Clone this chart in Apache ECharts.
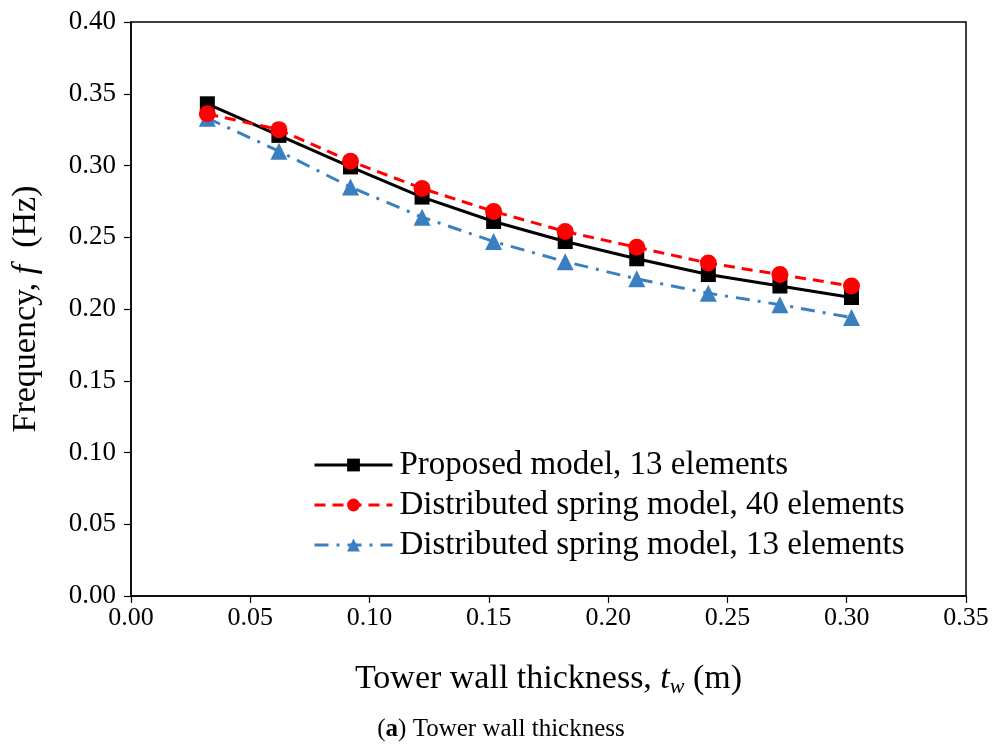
<!DOCTYPE html>
<html><head><meta charset="utf-8">
<script src="https://cdn.jsdelivr.net/npm/echarts@6/dist/echarts.min.js"></script>
<style>html,body{margin:0;padding:0;background:#fff}#c{width:1002px;height:749px}</style>
</head><body><div id="c"></div>
<script>
const thickness = [0.032, 0.062, 0.092, 0.122, 0.152, 0.182, 0.212, 0.242, 0.272, 0.302];
const proposed13 = [0.343, 0.321, 0.299, 0.278, 0.261, 0.247, 0.235, 0.224, 0.216, 0.208];
const spring40 = [0.336, 0.325, 0.303, 0.284, 0.268, 0.254, 0.243, 0.232, 0.224, 0.216];
const spring13 = [0.333, 0.310, 0.285, 0.264, 0.247, 0.233, 0.221, 0.211, 0.203, 0.194];
const seriesNames = ['Proposed model, 13 elements', 'Distributed spring model, 40 elements', 'Distributed spring model, 13 elements'];
const xTicks = [0, 0.05, 0.10, 0.15, 0.20, 0.25, 0.30, 0.35];
const yTicks = [0, 0.05, 0.10, 0.15, 0.20, 0.25, 0.30, 0.35, 0.40];

const font = 'Liberation Serif';
const pair = (xs, ys) => xs.map((x, i) => [x, ys[i]]);
const chart = echarts.init(document.getElementById('c'));
chart.setOption({
  animation: false,
  textStyle: { fontFamily: font, color: '#000' },
  grid: { left: 131, right: 36, top: 22, bottom: 153, containLabel: false, outerBoundsMode: 'none', show: true, borderColor: '#000', borderWidth: 1.5, backgroundColor: 'transparent' },
  xAxis: {
    type: 'value', min: xTicks[0], max: xTicks[xTicks.length - 1], interval: 0.05,
    axisLine: { lineStyle: { color: '#000', width: 1.5 } },
    axisTick: { inside: false, length: 7, lineStyle: { color: '#000', width: 1.2 } },
    axisLabel: { fontFamily: font, fontSize: 26, color: '#000', margin: 9, formatter: v => v.toFixed(2) },
    splitLine: { show: false },
    name: '{n|Tower wall thickness, }{i|t}{s|w}{n| (m)}',
    nameLocation: 'middle', nameGap: 64,
    nameTextStyle: {
      rich: {
        n: { fontFamily: font, fontSize: 34, color: '#000' },
        i: { fontFamily: font, fontSize: 34, fontStyle: 'italic', color: '#000' },
        s: { fontFamily: font, fontSize: 22, fontStyle: 'italic', color: '#000', padding: [16, 0, 0, 0] }
      }
    }
  },
  yAxis: {
    type: 'value', min: yTicks[0], max: yTicks[yTicks.length - 1], interval: 0.05,
    axisLine: { lineStyle: { color: '#000', width: 1.5 } },
    axisTick: { inside: false, length: 7, lineStyle: { color: '#000', width: 1.2 } },
    axisLabel: { fontFamily: font, fontSize: 27, color: '#000', margin: 15, formatter: v => v.toFixed(2) },
    splitLine: { show: false },
    name: '{n|Frequency, }{i|f}{n|  (Hz)}',
    nameLocation: 'middle', nameGap: 88,
    nameTextStyle: {
      rich: {
        n: { fontFamily: font, fontSize: 34, color: '#000' },
        i: { fontFamily: font, fontSize: 34, fontStyle: 'italic', color: '#000' }
      }
    }
  },
  legend: {
    left: 308, top: 441, orient: 'vertical', itemWidth: 78, itemHeight: 16, itemGap: 2,
    textStyle: { fontFamily: font, fontSize: 33, color: '#000', padding: [0, 0, 0, 2], lineHeight: 38 },
    lineStyle: { width: 3 },
    data: seriesNames
  },
  graphic: [{
    type: 'text', left: 'center', top: 717,
    style: {
      text: '({b|a}) Tower wall thickness',
      font: '25px "Liberation Serif"', fill: '#000',
      rich: { b: { fontFamily: font, fontSize: 25, fontWeight: 'bold', fill: '#000' } }
    }
  }],
  series: [
    {
      name: seriesNames[0], type: 'line', data: pair(thickness, proposed13),
      symbol: 'rect', symbolSize: 15, z: 3,
      lineStyle: { color: '#000', width: 3, type: 'solid' },
      itemStyle: { color: '#000' }
    },
    {
      name: seriesNames[1], type: 'line', data: pair(thickness, spring40),
      symbol: 'circle', symbolSize: 17, z: 4,
      lineStyle: { color: '#ff0000', width: 3, type: [11, 7] },
      itemStyle: { color: '#ff0000' }
    },
    {
      name: seriesNames[2], type: 'line', data: pair(thickness, spring13),
      symbol: 'triangle', symbolSize: 17, z: 2,
      lineStyle: { color: '#3a7fbf', width: 3, type: [14, 8, 3, 8] },
      itemStyle: { color: '#3a7fbf' }
    }
  ]
});
</script></body></html>
